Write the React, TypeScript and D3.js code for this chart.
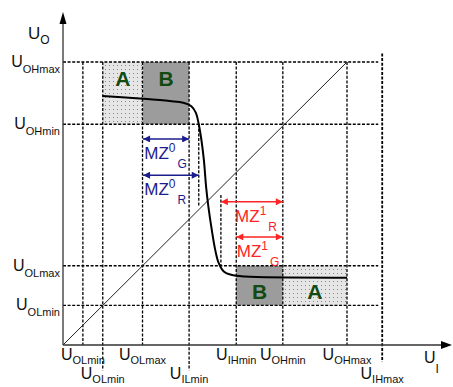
import React from 'react';
import * as d3 from 'd3';

// voltage levels (same units on both axes)
const outLevels = [
  { name: 'OLmin', v: 0.7 },
  { name: 'OLmax', v: 1.4 },
  { name: 'OHmin', v: 3.9 },
  { name: 'OHmax', v: 5.0 },
];

// vertical guide lines and their labels, row 1 = lower row of labels
const inLevels = [
  { name: 'OLmin', v: 0.35, row: 0, y0: 5.0, y1: 0 },
  { name: 'OLmin', v: 0.7, row: 1, y0: 5.0, y1: -0.45 },
  { name: 'OLmax', v: 1.4, row: 0, y0: 5.0, y1: 0 },
  { name: 'ILmin', v: 2.22, row: 1, y0: 5.0, y1: -0.45 },
  { name: 'IHmin', v: 3.05, row: 0, y0: 5.0, y1: 0 },
  { name: 'OHmin', v: 3.87, row: 0, y0: 5.0, y1: 0 },
  { name: 'OHmax', v: 5.0, row: 0, y0: 5.0, y1: 0 },
  { name: 'IHmax', v: 5.62, row: 1, y0: 5.15, y1: -0.3 },
];

// short dashed marks
const shortMarks = [
  { v: 2.39, y0: 3.9, y1: 2.44 },
  { v: 2.78, y0: 2.65, y1: 1.4 },
];

// shaded zones, ly = label baseline level
const zones = [
  { label: 'A', x0: 0.7, x1: 1.41, y0: 3.9, y1: 5.0, ly: 4.58, kind: 'A' },
  { label: 'B', x0: 1.41, x1: 2.22, y0: 3.9, y1: 5.0, ly: 4.58, kind: 'B' },
  { label: 'B', x0: 3.05, x1: 3.87, y0: 0.7, y1: 1.4, ly: 0.81, kind: 'B' },
  { label: 'A', x0: 3.87, x1: 5.0, y0: 0.7, y1: 1.4, ly: 0.81, kind: 'A' },
];

// noise margins, lx = where the label starts
const margins = [
  { sup: '0', sub: 'G', x0: 1.41, x1: 2.22, y: 3.64, lx: 1.43, color: '#1c1c8c' },
  { sup: '0', sub: 'R', x0: 1.41, x1: 2.39, y: 3.0, lx: 1.43, color: '#1c1c8c' },
  { sup: '1', sub: 'R', x0: 2.78, x1: 3.87, y: 2.53, lx: 3.03, color: '#ff2424' },
  { sup: '1', sub: 'G', x0: 3.05, x1: 3.87, y: 1.91, lx: 3.06, color: '#ff2424' },
];

// transfer characteristic
const curve: [number, number][] = [
  [0.7, 4.4], [1.41, 4.35], [1.88, 4.31], [2.12, 4.28], [2.26, 4.22],
  [2.34, 4.1], [2.39, 3.9], [2.44, 3.6], [2.48, 3.27], [2.52, 2.79],
  [2.56, 2.44], [2.62, 2.03], [2.68, 1.68], [2.74, 1.45], [2.83, 1.3],
  [2.96, 1.24], [3.2, 1.21], [5.0, 1.19],
];

const font = "Arial, 'Liberation Sans', Helvetica, sans-serif";

export default function App() {
  const x = d3.scaleLinear().domain([0, 5]).range([63, 347]);
  const y = d3.scaleLinear().domain([0, 5]).range([345, 62]);
  const line = d3.line<[number, number]>()
    .x((d) => x(d[0]))
    .y((d) => y(d[1]))
    .curve(d3.curveCatmullRom.alpha(0.5));

  const dash = '3,1.6';

  return (
    <svg width={453} height={387} style={{ position: 'absolute', left: 0, top: 0, fontFamily: font }}>
      <defs>
        <pattern id="dots" width={4} height={4} patternUnits="userSpaceOnUse">
          <rect width={4} height={4} fill="#e6e6e6" />
          <rect x={1} y={1} width={1} height={1} fill="#8a8a8a" />
        </pattern>
        {['#1c1c8c', '#ff2424'].map((c, i) => (
          <marker key={c} id={`ah${i}`} viewBox="0 0 10 10" refX={10} refY={5}
            markerWidth={9} markerHeight={7} markerUnits="userSpaceOnUse" orient="auto-start-reverse">
            <path d="M0,0 L10,5 L0,10 Z" fill={c} />
          </marker>
        ))}
      </defs>

      {zones.map((z, i) => (
        <rect key={i} x={x(z.x0)} y={y(z.y1)} width={x(z.x1) - x(z.x0)} height={y(z.y0) - y(z.y1)}
          fill={z.kind === 'A' ? 'url(#dots)' : '#9c9c9c'} />
      ))}
      {zones.map((z, i) => (
        <text key={`t${i}`} x={(x(z.x0) + x(z.x1)) / 2} y={y(z.ly)}
          textAnchor="middle" fontSize={21} fontWeight="bold" fill="#124a12">{z.label}</text>
      ))}

      {/* horizontal guides */}
      {outLevels.map((l) => (
        <line key={l.name} x1={x(0)} x2={x(5.55)} y1={y(l.v)} y2={y(l.v)}
          stroke="#000" strokeWidth={1.3} strokeDasharray={dash} />
      ))}
      {/* vertical guides */}
      {inLevels.map((l, i) => (
        <line key={i} x1={x(l.v)} x2={x(l.v)} y1={y(l.y0)} y2={y(l.y1)}
          stroke="#000" strokeWidth={l.name === 'IHmax' ? 1.8 : 1.3} strokeDasharray={dash} />
      ))}
      {shortMarks.map((m, i) => (
        <line key={i} x1={x(m.v)} x2={x(m.v)} y1={y(m.y0)} y2={y(m.y1)}
          stroke="#000" strokeWidth={1.3} strokeDasharray={dash} />
      ))}

      {/* diagonal */}
      <line x1={x(0)} y1={y(0)} x2={x(5)} y2={y(5)} stroke="#222" strokeWidth={1} />

      {/* axes */}
      <line x1={x(0)} y1={y(0)} x2={x(0)} y2={22} stroke="#333" strokeWidth={1.3} />
      <path d={`M${x(0)},12 L${x(0) - 3.5},24 L${x(0) + 3.5},24 Z`} fill="#000" />
      <line x1={x(0)} y1={y(0)} x2={444} y2={y(0)} stroke="#333" strokeWidth={1.3} />
      <path d={`M452,${y(0)} L441,${y(0) - 4} L441,${y(0) + 4} Z`} fill="#000" />

      {/* curve */}
      <path d={line(curve) ?? ''} fill="none" stroke="#000" strokeWidth={2} />

      {/* noise margin arrows */}
      {margins.map((m, i) => (
        <g key={i} fill={m.color}>
          <line x1={x(m.x0)} x2={x(m.x1)} y1={y(m.y)} y2={y(m.y)} stroke={m.color} strokeWidth={1.5}
            markerStart={`url(#ah${m.color === '#1c1c8c' ? 0 : 1})`} markerEnd={`url(#ah${m.color === '#1c1c8c' ? 0 : 1})`} />
          <text x={x(m.lx)} y={y(m.y) + 20} fontSize={17}>
            MZ<tspan fontSize={12} dy={-7}>{m.sup}</tspan><tspan fontSize={12} dx={2} dy={16}>{m.sub}</tspan>
          </text>
        </g>
      ))}

      {/* y labels */}
      {outLevels.map((l) => (
        <text key={l.name} x={60} y={y(l.v) + 5} textAnchor="end" fontSize={16} fill="#111">
          U<tspan fontSize={11} dy={6}>{l.name}</tspan>
        </text>
      ))}
      {/* x labels */}
      {inLevels.map((l, i) => (
        <text key={i} x={x(l.v)} y={l.row === 0 ? 360 : 379} textAnchor="middle" fontSize={16} fill="#111">
          U<tspan fontSize={11} dy={4}>{l.name}</tspan>
        </text>
      ))}

      <text x={28} y={39} fontSize={17} fill="#111">U<tspan fontSize={12} dy={5}>O</tspan></text>
      <text x={424} y={363} fontSize={16} fill="#111">U<tspan fontSize={12} dy={10}>I</tspan></text>
    </svg>
  );
}
